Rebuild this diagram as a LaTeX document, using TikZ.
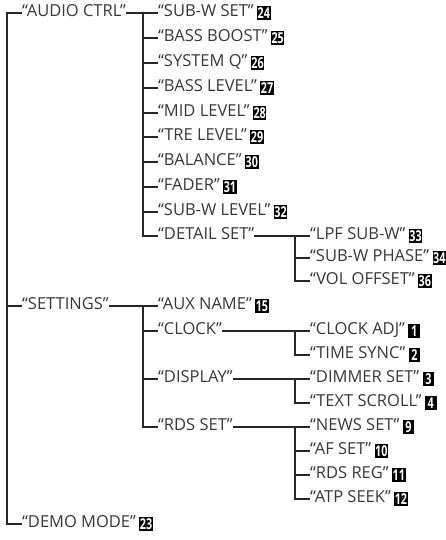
\documentclass[tikz,border=0pt]{standalone}
\usepackage{fontspec}
\setmainfont{Open Sans}
\newfontfamily\badgefont[FakeStretch=0.72]{Open Sans}
\tikzset{
  lbl/.style={anchor=west, inner sep=0pt, text height=1.32ex, text depth=0pt, text=black!78, font=\fontsize{16.5}{17}\selectfont},
  badge/.style={anchor=west, fill=black, text=white, inner xsep=0.6pt, inner ysep=0pt, minimum height=13.5pt, minimum width=11.5pt, font=\badgefont\bfseries\fontsize{15}{15}\selectfont},
  conn/.style={line width=1.1pt, black!85}
}
\newcommand{\entry}[5]{% name, x, y(px), text, badge
  \node[lbl] (#1) at (#2,-#3) {“#4”};
  \ifx&#5&\else\node[badge] (#1b) at ([xshift=3pt]#1.east) {#5};\fi
}
\begin{document}
\begin{tikzpicture}[x=1pt,y=1pt]
\useasboundingbox (0,0) rectangle (446,-540);
% level 1
\entry{audio}{22}{13}{AUDIO CTRL}{}
\entry{settings}{22}{306}{SETTINGS}{}
\entry{demo}{22}{524}{DEMO MODE}{23}
% level 2 under audio
\entry{subwset}{158}{13}{SUB-W SET}{24}
\entry{bassboost}{158}{38}{BASS BOOST}{25}
\entry{systemq}{158}{63}{SYSTEM Q}{26}
\entry{basslevel}{158}{88}{BASS LEVEL}{27}
\entry{midlevel}{158}{113}{MID LEVEL}{28}
\entry{trelevel}{158}{137}{TRE LEVEL}{29}
\entry{balance}{158}{162}{BALANCE}{30}
\entry{fader}{158}{187}{FADER}{31}
\entry{subwlevel}{158}{212}{SUB-W LEVEL}{32}
\entry{detail}{158}{236}{DETAIL SET}{}
% level 3 under detail
\entry{lpf}{310}{236}{LPF SUB-W}{33}
\entry{phase}{310}{258}{SUB-W PHASE}{34}
\entry{vol}{310}{281}{VOL OFFSET}{36}
% level 2 under settings
\entry{aux}{158}{306}{AUX NAME}{15}
\entry{clock}{158}{331}{CLOCK}{}
\entry{display}{158}{379}{DISPLAY}{}
\entry{rds}{158}{427}{RDS SET}{}
% level 3
\entry{clockadj}{310}{331}{CLOCK ADJ}{1}
\entry{timesync}{310}{355}{TIME SYNC}{2}
\entry{dimmer}{310}{379}{DIMMER SET}{3}
\entry{textscroll}{310}{403}{TEXT SCROLL}{4}
\entry{news}{310}{427}{NEWS SET}{9}
\entry{afset}{310}{451}{AF SET}{10}
\entry{rdsreg}{310}{475}{RDS REG}{11}
\entry{atp}{310}{499}{ATP SEEK}{12}
% junction coordinates
\coordinate (r0) at (7,-13);
\coordinate (a2) at (143,-13);
\coordinate (s2) at (143,-306);
\coordinate (d3) at (295,-236);
\coordinate (c3) at (295,-331);
\coordinate (p3) at (295,-379);
\coordinate (n3) at (295,-427);
% connectors
\draw[conn] (audio.west) -- (r0) |- (demo.west);
\draw[conn] (r0) |- (settings.west);
\draw[conn] (audio.east) -- (a2) |- (detail.west);
\foreach \n in {subwset,bassboost,systemq,basslevel,midlevel,trelevel,balance,fader,subwlevel}
  \draw[conn] (a2) |- (\n.west);
\draw[conn] (detail.east) -- (d3) |- (vol.west);
\draw[conn] (d3) |- (lpf.west);
\draw[conn] (d3) |- (phase.west);
\draw[conn] (settings.east) -- (s2) |- (rds.west);
\foreach \n in {aux,clock,display}
  \draw[conn] (s2) |- (\n.west);
\draw[conn] (clock.east) -- (c3) |- (timesync.west);
\draw[conn] (c3) |- (clockadj.west);
\draw[conn] (display.east) -- (p3) |- (textscroll.west);
\draw[conn] (p3) |- (dimmer.west);
\draw[conn] (rds.east) -- (n3) |- (atp.west);
\foreach \n in {news,afset,rdsreg}
  \draw[conn] (n3) |- (\n.west);
\end{tikzpicture}
\end{document}
